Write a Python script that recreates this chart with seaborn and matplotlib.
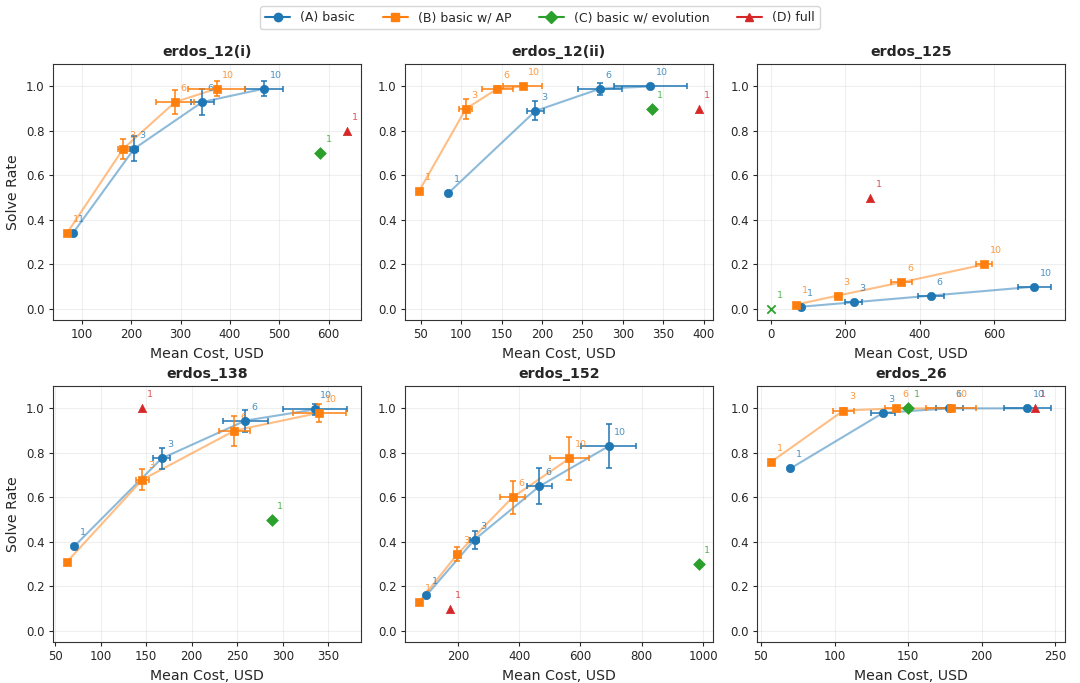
import matplotlib
matplotlib.use("Agg")
import matplotlib.pyplot as plt
from matplotlib.lines import Line2D
import numpy as np
import pandas as pd
import seaborn as sns

# Data
problems = ["erdos_12(i)", "erdos_12(ii)", "erdos_125", "erdos_138", "erdos_152", "erdos_26"]
budgets = [1, 3, 6, 10]

# (A) basic
basic_cost = [
    [82, 206, 344, 469],
    [84, 192, 272, 334],
    [80, 222, 431, 709],
    [71, 167, 259, 335],
    [97, 254, 466, 692],
    [70, 133, 178, 231],
]
basic_rate = [
    [0.34, 0.72, 0.93, 0.99],
    [0.52, 0.89, 0.99, 1.00],
    [0.01, 0.03, 0.06, 0.10],
    [0.38, 0.775, 0.945, 0.995],
    [0.16, 0.41, 0.65, 0.83],
    [0.73, 0.98, 1.00, 1.00],
]
basic_cost_err = [
    [0, 8, 23, 39],
    [0, 11, 27, 45],
    [0, 22, 35, 45],
    [0, 9, 25, 35],
    [0, 15, 40, 90],
    [0, 8, 9, 16],
]
basic_rate_err = [
    [0, 0.056, 0.06, 0.033],
    [0, 0.043, 0.027, 0],
    [0, 0, 0, 0],
    [0, 0.049, 0.049, 0.026],
    [0, 0.04, 0.08, 0.10],
    [0, 0.01, 0, 0],
]

# (B) basic w/ AP
ap_cost = [
    [70, 184, 289, 373],
    [48, 106, 145, 176],
    [68, 179, 351, 574],
    [63, 146, 247, 340],
    [73, 198, 378, 564],
    [57, 106, 142, 179],
]
ap_rate = [
    [0.34, 0.72, 0.93, 0.99],
    [0.53, 0.90, 0.99, 1.00],
    [0.02, 0.06, 0.12, 0.20],
    [0.31, 0.68, 0.90, 0.98],
    [0.13, 0.345, 0.60, 0.775],
    [0.76, 0.99, 1.00, 1.00],
]
ap_cost_err = [
    [0, 10, 38, 58],
    [0, 8, 19, 24],
    [0, 6, 28, 22],
    [0, 7, 17, 29],
    [0, 10, 40, 65],
    [0, 7, 8, 17],
]
ap_rate_err = [
    [0, 0.045, 0.055, 0.033],
    [0, 0.045, 0.01, 0],
    [0, 0, 0, 0],
    [0, 0.049, 0.067, 0.04],
    [0, 0.03, 0.073, 0.097],
    [0, 0.01, 0, 0],
]

# (C) basic w/ evolution and (D) full: single budget-1 runs
evo_cost = [583, 336, 0, 288, 986, 150]
evo_rate = [0.70, 0.90, 0.00, 0.50, 0.30, 1.00]
full_cost = [636, 394, 267, 145, 173, 236]
full_rate = [0.80, 0.90, 0.50, 1.00, 0.10, 1.00]

labels = ["(A) basic", "(B) basic w/ AP", "(C) basic w/ evolution", "(D) full"]
colors = ["#1f77b4", "#ff7f0e", "#2ca02c", "#d62728"]
markers = ["o", "s", "D", "^"]

sns.set_theme(style="ticks")
plt.rcParams["font.family"] = ["DejaVu Sans"]

fig, axes = plt.subplots(2, 3, figsize=(10.8, 6.83), dpi=100)
fig.subplots_adjust(left=0.049, right=0.986, top=0.906, bottom=0.060,
                    wspace=0.145, hspace=0.258)

MS = 36


def draw_curve(ax, cost, rate, cerr, rerr, color, marker):
    df = pd.DataFrame({"cost": cost, "rate": rate, "cerr": cerr, "rerr": rerr,
                       "budget": budgets})
    sns.lineplot(data=df, x="cost", y="rate", ax=ax, color=color, alpha=0.5,
                 lw=1.5, estimator=None, sort=False, zorder=2)
    e = df[(df["cerr"] > 0) | (df["rerr"] > 0)]
    ax.errorbar(e["cost"], e["rate"], xerr=e["cerr"], yerr=e["rerr"], fmt="none",
                ecolor=color, elinewidth=1.1, capsize=2.5, capthick=1.1, zorder=3)
    sns.scatterplot(data=df, x="cost", y="rate", ax=ax, color=color, marker=marker,
                    s=MS, edgecolor=color, linewidth=0.5, zorder=4)
    for _, r in df.iterrows():
        ax.annotate(str(int(r["budget"])), (r["cost"], r["rate"]), xytext=(4, 8),
                    textcoords="offset points", fontsize=6.8, color=color, alpha=0.8)


def draw_single(ax, cost, rate, color, marker):
    m = "x" if rate == 0 else marker
    if m == "x":
        ax.scatter([cost], [rate], color=color, marker="x", s=MS, linewidths=1.3, zorder=5)
    else:
        sns.scatterplot(x=[cost], y=[rate], ax=ax, color=color, marker=m, s=MS,
                        edgecolor=color, linewidth=0.5, zorder=5)
    ax.annotate("1", (cost, rate), xytext=(4, 8), textcoords="offset points",
                fontsize=6.8, color=color, alpha=0.8)


for i, ax in enumerate(axes.flat):
    draw_curve(ax, basic_cost[i], basic_rate[i], basic_cost_err[i], basic_rate_err[i],
               colors[0], markers[0])
    draw_curve(ax, ap_cost[i], ap_rate[i], ap_cost_err[i], ap_rate_err[i],
               colors[1], markers[1])
    draw_single(ax, evo_cost[i], evo_rate[i], colors[2], markers[2])
    draw_single(ax, full_cost[i], full_rate[i], colors[3], markers[3])

    ax.set_ylim(-0.05, 1.1)
    ax.set_yticks([0.0, 0.2, 0.4, 0.6, 0.8, 1.0])
    ax.grid(True, alpha=0.3, lw=0.8)
    ax.set_title(problems[i], fontsize=10.2, fontweight="bold")
    ax.set_xlabel("Mean Cost, USD", fontsize=10.2)
    ax.set_ylabel("Solve Rate" if i % 3 == 0 else "", fontsize=10.2)
    ax.tick_params(labelsize=8.5, length=3, width=0.8, pad=3)
    for s in ax.spines.values():
        s.set_linewidth(0.8)
        s.set_color("#333333")

handles = [Line2D([], [], color=c, marker=m, markersize=6, lw=1.5)
           for c, m in zip(colors, markers)]
fig.legend(handles, labels, loc="upper center", bbox_to_anchor=(0.5, 1.0), ncol=4,
           fontsize=9, frameon=True, columnspacing=2.2)

fig.savefig("out.png", dpi=100)
